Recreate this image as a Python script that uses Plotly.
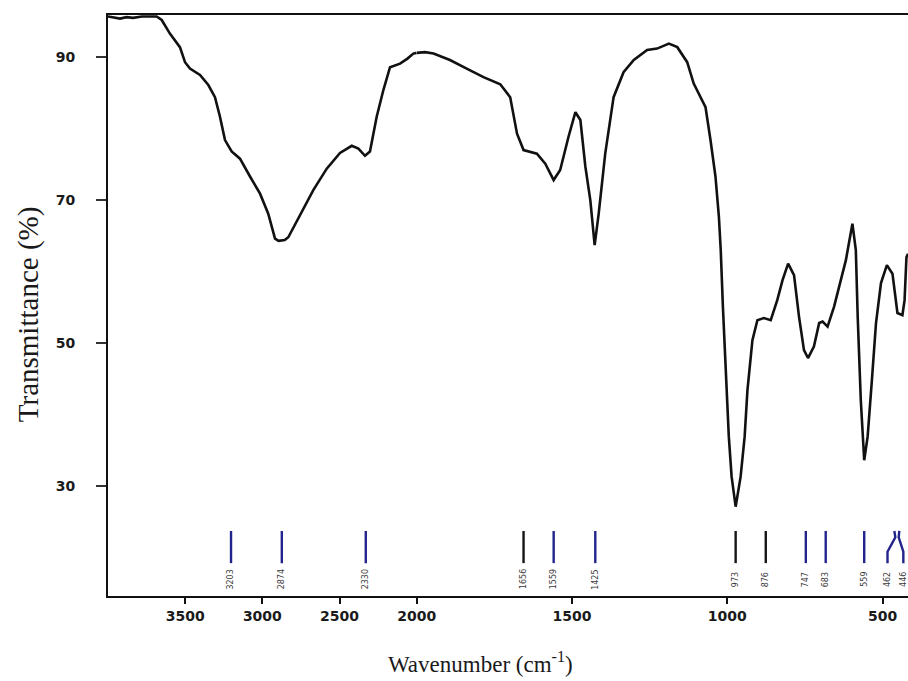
import plotly.graph_objects as go

# ---------------- data ----------------
wavenumber = [4000, 3960, 3922, 3880, 3838, 3780, 3720, 3685, 3652, 3599, 3534, 3501,
              3469, 3404, 3350, 3307, 3275, 3242, 3199, 3145, 3080, 3015, 2962, 2918,
              2895, 2875, 2855, 2832, 2756, 2670, 2583, 2497, 2421, 2378, 2335, 2303,
              2259, 2216, 2173, 2108, 2060, 2022, 2000, 1973, 1946, 1893, 1839, 1785,
              1731, 1699, 1677, 1656, 1613, 1586, 1559, 1538, 1511, 1489, 1473, 1457,
              1441, 1427, 1414, 1393, 1366, 1334, 1301, 1258, 1226, 1188, 1161, 1129,
              1108, 1070, 1054, 1038, 1027, 1021, 1014, 1002, 995, 986, 973, 957, 944,
              935, 919, 903, 882, 860, 839, 822, 804, 785, 769, 753, 740, 721, 704,
              693, 677, 656, 634, 618, 597, 586, 580, 570, 559, 548, 535, 521, 505,
              486, 468, 452, 436, 429, 423, 418]
transmittance = [95.7, 95.5, 95.4, 95.6, 95.5, 95.7, 95.7, 95.7, 95.2, 93.3, 91.4, 89.3,
                 88.4, 87.5, 86.1, 84.4, 81.7, 78.4, 76.8, 75.8, 73.3, 70.9, 68.1, 64.6,
                 64.3, 64.3, 64.4, 64.8, 67.9, 71.4, 74.4, 76.6, 77.6, 77.2, 76.2, 76.8,
                 81.7, 85.4, 88.6, 89.1, 89.8, 90.5, 90.6, 90.7, 90.5, 89.6, 88.4, 87.2,
                 86.2, 84.4, 79.3, 77.0, 76.5, 75.1, 72.8, 74.2, 78.9, 82.3, 81.2, 74.7,
                 70.0, 63.7, 68.1, 76.5, 84.4, 87.9, 89.6, 91.0, 91.2, 91.9, 91.4, 89.3,
                 86.3, 83.0, 78.4, 73.3, 67.7, 63.0, 55.0, 44.4, 36.9, 31.3, 27.1, 31.3, 36.9,
                 43.4, 50.4, 53.2, 53.5, 53.2, 56.0, 58.8, 61.1, 59.5, 53.7, 49.0, 47.9, 49.5, 52.8,
                 53.0, 52.3, 55.1, 58.8, 61.6, 66.7, 63.0, 53.7, 42.0, 33.6, 36.9, 44.4, 52.8, 58.4,
                 60.9, 59.7, 54.2, 53.9, 56.0, 62.0, 62.5]

peak_wavenumbers = [3203, 2874, 2330, 1656, 1559, 1425, 973, 876, 747, 683, 559, 462, 446]
peak_labels = ["3203", "2874", "2330", "1656", "1559", "1425", "973", "876", "747",
               "683", "559", "462", "446"]

x_ticks_high = [3500, 3000, 2500, 2000]
x_ticks_low = [1500, 1000, 500]
y_ticks = [30, 50, 70, 90]

# ---------------- layout constants ----------------
BREAK = 2000           # scale change of the wavenumber axis
X_HIGH_RANGE = [4000, BREAK]
X_LOW_RANGE = [BREAK, 418]
Y_RANGE = [14.6, 95.9]
SPLIT = 0.3859         # paper fraction where the axis scale changes

MARK_TOP, MARK_BEND, MARK_BOTTOM, LABEL_Y = 23.7, 20.8, 19.2, 16.9
label_shift = {462: 22, 446: -13}   # leader lines fanned out for crowded labels
black_markers = {1656, 973, 876}

LINE_COLOR = "#111111"
MARK_COLOR = "#23238c"
TICK_FONT = dict(family="DejaVu Sans", size=14, color="#1a1a1a", weight="bold")

fig = go.Figure()

hi_pts = [(w, t) for w, t in zip(wavenumber, transmittance) if w >= BREAK]
lo_pts = [(w, t) for w, t in zip(wavenumber, transmittance) if w <= BREAK]
fig.add_trace(go.Scatter(x=[p[0] for p in hi_pts], y=[p[1] for p in hi_pts],
                         xaxis="x", yaxis="y", mode="lines",
                         line=dict(color=LINE_COLOR, width=2.6), hoverinfo="x+y"))
fig.add_trace(go.Scatter(x=[p[0] for p in lo_pts], y=[p[1] for p in lo_pts],
                         xaxis="x2", yaxis="y", mode="lines",
                         line=dict(color=LINE_COLOR, width=2.6), hoverinfo="x+y"))

# peak markers
seg = {}
annotations = []
for w, lab in zip(peak_wavenumbers, peak_labels):
    ax = "x" if w >= BREAK else "x2"
    col = "#151515" if w in black_markers else MARK_COLOR
    xs, ys = seg.setdefault((ax, col), ([], []))
    shift = label_shift.get(w, 0)
    if shift:
        xs += [w, w - shift * 0.15, w + shift, w + shift, None]
        ys += [MARK_TOP, MARK_TOP - 0.9, MARK_BEND, MARK_BOTTOM, None]
    else:
        xs += [w, w, None]
        ys += [MARK_TOP, MARK_BOTTOM, None]
    annotations.append(dict(x=w + shift, y=LABEL_Y, xref=ax, yref="y", text=lab,
                            textangle=-90, showarrow=False,
                            font=dict(family="DejaVu Sans", size=8, color="#3a3a3a"),
                            xanchor="center", yanchor="middle"))
for (ax, col), (xs, ys) in seg.items():
    fig.add_trace(go.Scatter(x=xs, y=ys, xaxis=ax, yaxis="y", mode="lines",
                             line=dict(color=col, width=2.4), hoverinfo="skip"))

# axis titles
annotations.append(dict(x=0.465, y=-0.1153, xref="paper", yref="paper",
                        text="Wavenumber (cm<sup>-1</sup>)", showarrow=False,
                        font=dict(family="Liberation Serif", size=23, color="#1a1a1a"),
                        xanchor="center", yanchor="middle"))
annotations.append(dict(x=-0.1, y=0.485, xref="paper", yref="paper",
                        text="Transmittance (%)", textangle=-90, showarrow=False,
                        font=dict(family="Liberation Serif", size=29, color="#1a1a1a"),
                        xanchor="center", yanchor="middle"))

common_x = dict(showgrid=False, zeroline=False, showline=True, linewidth=2,
                linecolor=LINE_COLOR, mirror=True, ticks="outside", ticklen=6,
                tickwidth=2, tickcolor=LINE_COLOR, tickfont=TICK_FONT, automargin=False)

fig.update_layout(
    width=908, height=681, autosize=False,
    margin=dict(l=108, r=0, t=15, b=85, autoexpand=False),
    paper_bgcolor="white", plot_bgcolor="white",
    showlegend=False,
    xaxis=dict(domain=[0, SPLIT], range=X_HIGH_RANGE, tickvals=x_ticks_high,
               anchor="y", **common_x),
    xaxis2=dict(domain=[SPLIT, 1], range=X_LOW_RANGE, tickvals=x_ticks_low,
                anchor="y", **common_x),
    yaxis=dict(domain=[0, 1], range=Y_RANGE, tickvals=y_ticks, showgrid=False,
               zeroline=False, showline=True, linewidth=2, linecolor=LINE_COLOR,
               ticks="outside", ticklen=10, tickwidth=1.5, tickcolor="#333",
               tickfont=TICK_FONT, ticklabelstandoff=18, automargin=False),
    annotations=annotations,
)

fig.write_html("out.html", config={"responsive": False})
